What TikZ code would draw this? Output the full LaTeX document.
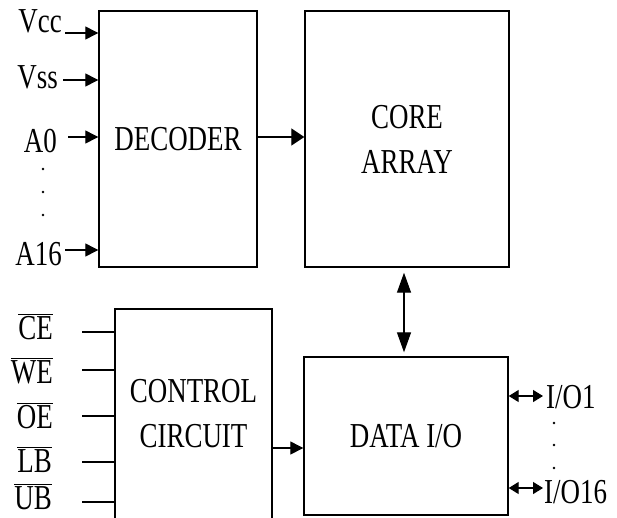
\documentclass[tikz,border=0pt]{standalone}
\usepackage{fontspec}
\setmainfont{Liberation Serif}[FakeStretch=0.77]
\usetikzlibrary{arrows.meta}
\newcommand\ovl[1]{$\overline{\hbox{#1}}$}
\begin{document}
\begin{tikzpicture}[x=1pt,y=-1pt,
  box/.style={draw,line width=1.4pt,rectangle,inner sep=0pt,font=\fontsize{35}{45}\selectfont,align=center},
  lbl/.style={inner sep=0pt,font=\fontsize{35}{40}\selectfont},
  wire/.style={line width=1.3pt},
  arr/.style={wire,-{Triangle[length=13pt,width=13pt]}},
  barr/.style={wire,-{Triangle[length=13pt,width=17pt]}},
  varr/.style={wire,{Triangle[length=20pt,width=14pt]}-{Triangle[length=20pt,width=14pt]}},
  ioarr/.style={wire,{Triangle[length=10pt,width=12pt]}-{Triangle[length=10pt,width=12pt]}},
  dot/.style={fill,circle,inner sep=0pt,minimum size=2.6pt}]
\clip (0,0) rectangle (617,517);
\fill[white] (0,0) rectangle (617,517);
% blocks
\node[box,minimum width=158pt,minimum height=256pt] (dec) at (178,139) {DECODER};
\node[box,minimum width=204pt,minimum height=256pt] (core) at (407,139) {CORE\\ARRAY};
\node[box,minimum width=157pt,minimum height=210pt] (ctrl) at (193.5,414) {CONTROL\\CIRCUIT};
\node[box,minimum width=204pt,minimum height=158pt] (dio) at (406,436) {DATA I/O};
% decoder inputs
\node[lbl,anchor=base east] (vcc) at (62,32) {Vcc};
\node[lbl,anchor=base east] (vss) at (58,88) {Vss};
\node[lbl,anchor=base east] (a0) at (57,152) {A0};
\node[lbl,anchor=base east] (a16) at (62,265) {A16};
\coordinate (vccin) at (65,33);
\coordinate (vssin) at (63,80);
\coordinate (a0in) at (68,137);
\coordinate (a16in) at (65,250);
\draw[arr] (vccin) -- (vccin -| dec.west);
\draw[arr] (vssin) -- (vssin -| dec.west);
\draw[arr] (a0in) -- (a0in -| dec.west);
\draw[arr] (a16in) -- (a16in -| dec.west);
\node[dot] (d1) at (43,169) {};
\node[dot] (d2) at (43,192) {};
\node[dot] (d3) at (43,215) {};
% decoder -> core
\draw[barr] ([yshift=2pt]dec.east) -- ([yshift=2pt]core.west);
% core <-> data io
\coordinate (vx) at (404,0);
\draw[varr,shorten <=5pt,shorten >=4pt] (core.south -| vx) -- (dio.north -| vx);
% control inputs
\node[lbl,anchor=base east] (ce) at (53,339) {\ovl{CE}};
\node[lbl,anchor=base east] (we) at (53,383) {\ovl{WE}};
\node[lbl,anchor=base east] (oe) at (53,428) {\ovl{OE}};
\node[lbl,anchor=base east] (lb) at (52,472) {\ovl{LB}};
\node[lbl,anchor=base east] (ub) at (52,509) {\ovl{UB}};
\coordinate (cein) at (82,332);
\coordinate (wein) at (82,370);
\coordinate (oein) at (82,416);
\coordinate (lbin) at (82,462);
\coordinate (ubin) at (82,502);
\draw[wire] (cein) -- (cein -| ctrl.west);
\draw[wire] (wein) -- (wein -| ctrl.west);
\draw[wire] (oein) -- (oein -| ctrl.west);
\draw[wire] (lbin) -- (lbin -| ctrl.west);
\draw[wire] (ubin) -- (ubin -| ctrl.west);
% control -> data io
\coordinate (c2d) at (272,448);
\draw[arr] (c2d -| ctrl.east) -- (c2d -| dio.west);
% data io outputs
\node[lbl,anchor=base west] (io1) at (546,408) {I/O1};
\node[lbl,anchor=base west] (io16) at (544,503) {I/O16};
\coordinate (io1p) at (543,396);
\coordinate (io16p) at (543,488);
\draw[ioarr] (io1p -| dio.east) -- (io1p);
\draw[ioarr] (io16p -| dio.east) -- (io16p);
\node[dot] (e1) at (554,423) {};
\node[dot] (e2) at (554,445) {};
\node[dot] (e3) at (554,468) {};
\end{tikzpicture}
\end{document}
